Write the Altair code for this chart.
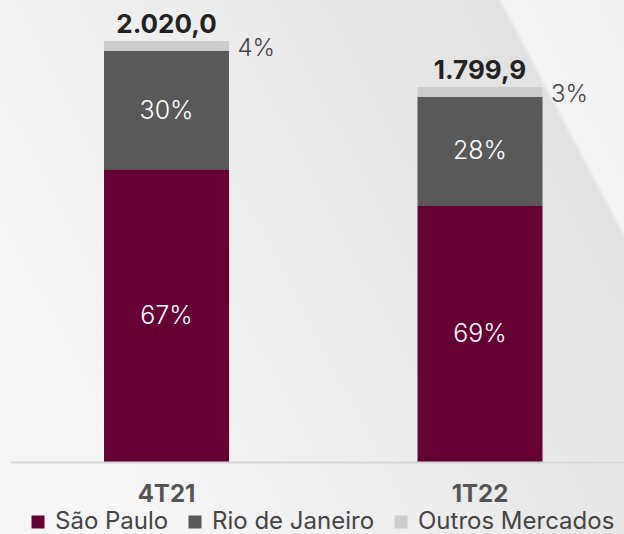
import altair as alt
import pandas as pd

quarters = ["4T21", "1T22"]
segments = ["São Paulo", "Rio de Janeiro", "Outros Mercados"]
sao_paulo = [1401, 1229]
rio_de_janeiro = [571, 523]
outros = [48, 48]
pct_sp = ["67%", "69%"]
pct_rj = ["30%", "28%"]
pct_out = ["4%", "3%"]
total_labels = ["2.020,0", "1.799,9"]
colors = ["#660033", "#595959", "#cccccc"]

rows = []
for i, q in enumerate(quarters):
    for rank, (seg, vals, pcts) in enumerate(zip(segments, [sao_paulo, rio_de_janeiro, outros], [pct_sp, pct_rj, pct_out])):
        rows.append({"quarter": q, "segment": seg, "value": vals[i], "pct": pcts[i],
                     "rank": rank, "total_label": total_labels[i]})
df = pd.DataFrame(rows)

FONT = "Inter"

xscale = alt.Scale(domain=quarters, paddingInner=0.6013, paddingOuter=0.2799, align=0.5356)
yscale = alt.Scale(domain=[0, 2217], nice=False)

x_enc = alt.X("quarter:N", sort=quarters, scale=xscale,
              axis=alt.Axis(title=None, labelAngle=0, ticks=False, labelFontSize=24,
                            labelFontWeight="bold", labelColor="#555555", labelFont=FONT,
                            labelPadding=20, domainColor="#d4d4d4", domainWidth=2, zindex=1))

bg = alt.Chart(alt.Data(values=[{}])).mark_rect(
    fill=alt.Gradient(gradient="linear", x1=0, y1=0.5, x2=1, y2=0.05,
                      stops=[alt.GradientStop(offset=0, color="#f6f6f6"),
                             alt.GradientStop(offset=0.45, color="#ececec"),
                             alt.GradientStop(offset=0.85, color="#e1e1e1"),
                             alt.GradientStop(offset=0.857, color="#f4f4f4"),
                             alt.GradientStop(offset=1, color="#f1f1f1")])
).encode(x=alt.value(-10), x2=alt.value(614), y=alt.value(0), y2=alt.value(534))

base = alt.Chart(df)

bars = base.mark_bar().encode(
    x=x_enc,
    y=alt.Y("value:Q", stack="zero", scale=yscale, axis=None),
    color=alt.Color("segment:N", scale=alt.Scale(domain=segments, range=colors),
                    legend=alt.Legend(orient="none", legendX=16, legendY=510, direction="horizontal",
                                      title=None, symbolType="square", symbolSize=169,
                                      symbolStrokeWidth=0, labelFontSize=24, labelFont=FONT,
                                      labelColor="#444444", labelOffset=5, columnPadding=14,
                                      labelLimit=400, padding=0)),
    order=alt.Order("rank:Q"),
)

stacked = base.transform_stack(
    stack="value", groupby=["quarter"], sort=[alt.SortField("rank", order="ascending")],
    as_=["y0", "y1"]
).transform_calculate(mid="(datum.y0 + datum.y1) / 2")

inside = stacked.transform_filter("datum.rank < 2").mark_text(
    color="white", fontSize=25, font=FONT, fontWeight=300, baseline="middle"
).encode(x=alt.X("quarter:N", sort=quarters, scale=xscale), y=alt.Y("mid:Q", scale=yscale), text="pct:N")

outside = stacked.transform_filter("datum.rank == 2").mark_text(
    color="#444444", fontSize=24, font=FONT, fontWeight=300, align="left", baseline="middle", dx=71, dy=3
).encode(x=alt.X("quarter:N", sort=quarters, scale=xscale), y=alt.Y("mid:Q", scale=yscale), text="pct:N")

totals = base.transform_aggregate(
    total="sum(value)", groupby=["quarter", "total_label"]
).mark_text(color="#222222", fontSize=26, font=FONT, fontWeight="bold", baseline="alphabetic", dy=-8
).encode(x=alt.X("quarter:N", sort=quarters, scale=xscale), y=alt.Y("total:Q", scale=yscale), text="total_label:N")

chart = alt.layer(bg, bars, inside, outside, totals).properties(
    width=614, height=462,
    padding={"left": 10, "top": 0, "right": 0, "bottom": 72},
    autosize=alt.AutoSizeParams(type="none"),
    background="#f2f2f2",
).configure_view(stroke=None)

chart.save("out.html", embed_options={"renderer": "svg", "actions": False})
